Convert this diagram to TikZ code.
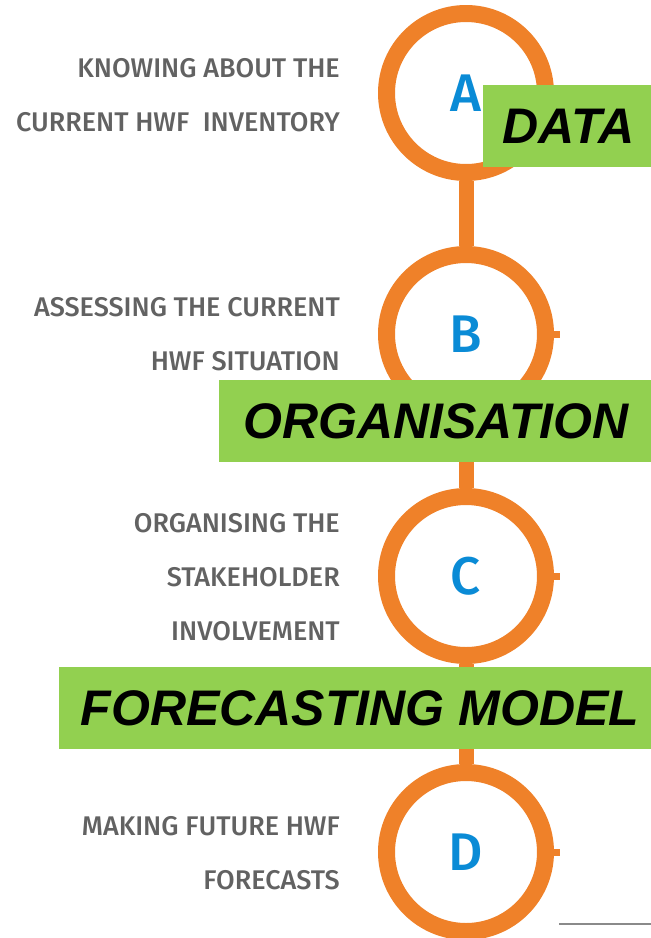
\documentclass[tikz,border=0pt]{standalone}
\usepackage{fontspec}
\setmainfont{Liberation Sans}
\newfontfamily\labelfont{Fira Sans}[UprightFont={* Medium}]
\definecolor{hworange}{HTML}{EF8129}
\definecolor{hwblue}{HTML}{0A8BD6}
\definecolor{hwgreen}{HTML}{92D050}
\definecolor{hwgray}{HTML}{626262}
\definecolor{hwrule}{HTML}{8A8A8A}
\begin{document}
\begin{tikzpicture}[x=1pt,y=-1pt,
  stepcircle/.style={circle, draw=hworange, line width=17pt, fill=white,
    minimum size=159pt, inner sep=0pt, text=hwblue,
    font=\labelfont\fontsize{53}{53}\selectfont},
  link/.style={draw=hworange, line width=15pt},
  stub/.style={draw=hworange, line width=7pt},
  greenbox/.style={fill=hwgreen, inner sep=0pt, minimum height=82pt,
    font=\bfseries\itshape\fontsize{50}{50}\selectfont},
  desc/.style={anchor=east, align=right, text=hwgray, inner sep=0pt,
    font=\labelfont\fontsize{27}{54}\selectfont},
  rule/.style={draw=hwrule, line width=2pt}
]
\useasboundingbox (0,0) rectangle (651,938);
% circles
\node[stepcircle] (A) at (466,93) {A};
\node[stepcircle] (B) at (466,334) {B};
\node[stepcircle] (C) at (466,576) {C};
\node[stepcircle] (D) at (466,852) {D};
% connectors
\draw[link] (A.south) -- (B.north);
\draw[link] (B.south) -- (C.north);
\draw[link] (C.south) -- (D.north);
% stubs
\foreach \n in {A,B,C,D} \draw[stub] (\n.east) -- ++(6,0);
% descriptions
\node[desc] (dA) at (340,95) {KNOWING ABOUT THE\\CURRENT HWF~ INVENTORY};
\node[desc] (dB) at (340,334) {ASSESSING THE CURRENT\\HWF SITUATION};
\node[desc] (dC) at (340,577) {ORGANISING THE\\STAKEHOLDER\\INVOLVEMENT};
\node[desc] (dD) at (340,853) {MAKING FUTURE HWF\\FORECASTS};
% green boxes
\node[greenbox, minimum width=168pt] (data) at (567,126) {\hspace*{3pt}DATA};
\node[greenbox, minimum width=432pt] (org) at (435,421) {\hspace*{2pt}ORGANISATION};
\node[greenbox, minimum width=592pt] (fore) at (355,708) {\hspace*{10pt}FORECASTING MODEL};
% rule
\coordinate (ruleL) at (559,924);
\coordinate (ruleR) at (651,924);
\draw[rule] (ruleL) -- (ruleR);
\end{tikzpicture}
\end{document}
